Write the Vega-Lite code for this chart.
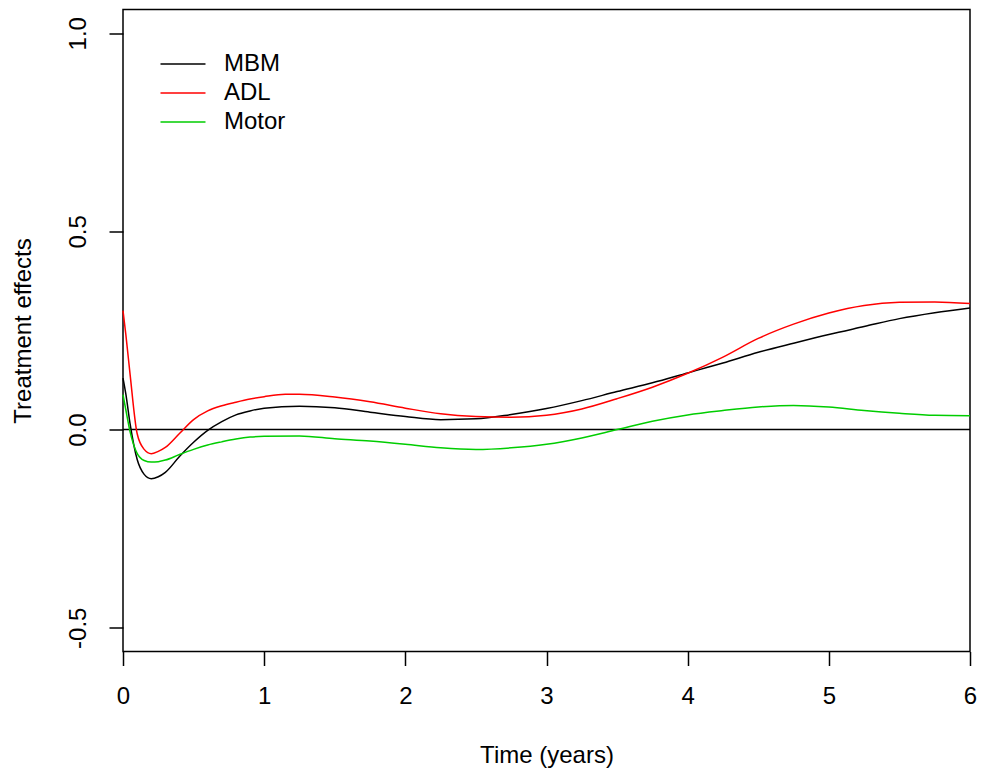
{
  "$schema": "https://vega.github.io/schema/vega-lite/v6.json",
  "width": 847,
  "height": 642,
  "autosize": {"type": "none"},
  "padding": {"left": 123, "top": 9.5, "right": 12, "bottom": 125.5},
  "config": {
    "font": "Liberation Sans",
    "view": {"stroke": "#000000", "strokeWidth": 1.5},
    "axis": {
      "grid": false,
      "domain": false,
      "tickColor": "#000000",
      "tickSize": 14,
      "tickWidth": 1.5,
      "labelFont": "Liberation Sans",
      "labelFontSize": 24,
      "labelColor": "#000000",
      "titleFont": "Liberation Sans",
      "titleFontSize": 24,
      "titleFontWeight": "normal",
      "titleColor": "#000000"
    }
  },
  "layer": [
    {
      "data": {"values": [{"h": 0}]},
      "mark": {"type": "rule", "color": "#000000", "strokeWidth": 1.5},
      "encoding": {
        "y": {"field": "h", "type": "quantitative", "scale": {"domain": [-0.56, 1.06], "nice": false, "zero": false}}
      }
    },
    {
      "data": {"values": [
        {"t": 0, "s": "MBM", "v": 0.13}, {"t": 0.02, "s": "MBM", "v": 0.09}, {"t": 0.05, "s": "MBM", "v": 0.015}, {"t": 0.1, "s": "MBM", "v": -0.075}, {"t": 0.15, "s": "MBM", "v": -0.113}, {"t": 0.2, "s": "MBM", "v": -0.124}, {"t": 0.25, "s": "MBM", "v": -0.119}, {"t": 0.3, "s": "MBM", "v": -0.108}, {"t": 0.4, "s": "MBM", "v": -0.068}, {"t": 0.5, "s": "MBM", "v": -0.032}, {"t": 0.6, "s": "MBM", "v": -0.002}, {"t": 0.7, "s": "MBM", "v": 0.02}, {"t": 0.8, "s": "MBM", "v": 0.037}, {"t": 0.9, "s": "MBM", "v": 0.047}, {"t": 1.0, "s": "MBM", "v": 0.054}, {"t": 1.25, "s": "MBM", "v": 0.059}, {"t": 1.5, "s": "MBM", "v": 0.055}, {"t": 1.75, "s": "MBM", "v": 0.044}, {"t": 2.0, "s": "MBM", "v": 0.033}, {"t": 2.25, "s": "MBM", "v": 0.025}, {"t": 2.5, "s": "MBM", "v": 0.027}, {"t": 2.75, "s": "MBM", "v": 0.038}, {"t": 3.0, "s": "MBM", "v": 0.053}, {"t": 3.25, "s": "MBM", "v": 0.073}, {"t": 3.5, "s": "MBM", "v": 0.096}, {"t": 3.75, "s": "MBM", "v": 0.118}, {"t": 4.0, "s": "MBM", "v": 0.143}, {"t": 4.25, "s": "MBM", "v": 0.168}, {"t": 4.5, "s": "MBM", "v": 0.195}, {"t": 4.75, "s": "MBM", "v": 0.218}, {"t": 5.0, "s": "MBM", "v": 0.24}, {"t": 5.25, "s": "MBM", "v": 0.26}, {"t": 5.5, "s": "MBM", "v": 0.28}, {"t": 5.75, "s": "MBM", "v": 0.295}, {"t": 6.0, "s": "MBM", "v": 0.307},
        {"t": 0, "s": "ADL", "v": 0.30}, {"t": 0.02, "s": "ADL", "v": 0.24}, {"t": 0.05, "s": "ADL", "v": 0.14}, {"t": 0.1, "s": "ADL", "v": -0.01}, {"t": 0.15, "s": "ADL", "v": -0.05}, {"t": 0.2, "s": "ADL", "v": -0.061}, {"t": 0.25, "s": "ADL", "v": -0.055}, {"t": 0.3, "s": "ADL", "v": -0.045}, {"t": 0.4, "s": "ADL", "v": -0.01}, {"t": 0.5, "s": "ADL", "v": 0.025}, {"t": 0.6, "s": "ADL", "v": 0.047}, {"t": 0.7, "s": "ADL", "v": 0.06}, {"t": 0.8, "s": "ADL", "v": 0.069}, {"t": 0.9, "s": "ADL", "v": 0.077}, {"t": 1.0, "s": "ADL", "v": 0.083}, {"t": 1.15, "s": "ADL", "v": 0.089}, {"t": 1.25, "s": "ADL", "v": 0.089}, {"t": 1.5, "s": "ADL", "v": 0.082}, {"t": 1.75, "s": "ADL", "v": 0.07}, {"t": 2.0, "s": "ADL", "v": 0.054}, {"t": 2.25, "s": "ADL", "v": 0.04}, {"t": 2.5, "s": "ADL", "v": 0.033}, {"t": 2.75, "s": "ADL", "v": 0.031}, {"t": 3.0, "s": "ADL", "v": 0.036}, {"t": 3.25, "s": "ADL", "v": 0.052}, {"t": 3.5, "s": "ADL", "v": 0.078}, {"t": 3.75, "s": "ADL", "v": 0.107}, {"t": 4.0, "s": "ADL", "v": 0.142}, {"t": 4.25, "s": "ADL", "v": 0.183}, {"t": 4.5, "s": "ADL", "v": 0.23}, {"t": 4.75, "s": "ADL", "v": 0.266}, {"t": 5.0, "s": "ADL", "v": 0.294}, {"t": 5.25, "s": "ADL", "v": 0.313}, {"t": 5.5, "s": "ADL", "v": 0.321}, {"t": 5.75, "s": "ADL", "v": 0.322}, {"t": 6.0, "s": "ADL", "v": 0.318},
        {"t": 0, "s": "Motor", "v": 0.088}, {"t": 0.02, "s": "Motor", "v": 0.05}, {"t": 0.05, "s": "Motor", "v": -0.005}, {"t": 0.1, "s": "Motor", "v": -0.06}, {"t": 0.15, "s": "Motor", "v": -0.078}, {"t": 0.2, "s": "Motor", "v": -0.082}, {"t": 0.25, "s": "Motor", "v": -0.081}, {"t": 0.3, "s": "Motor", "v": -0.077}, {"t": 0.4, "s": "Motor", "v": -0.063}, {"t": 0.5, "s": "Motor", "v": -0.05}, {"t": 0.6, "s": "Motor", "v": -0.039}, {"t": 0.7, "s": "Motor", "v": -0.031}, {"t": 0.8, "s": "Motor", "v": -0.024}, {"t": 0.9, "s": "Motor", "v": -0.019}, {"t": 1.0, "s": "Motor", "v": -0.017}, {"t": 1.25, "s": "Motor", "v": -0.016}, {"t": 1.5, "s": "Motor", "v": -0.023}, {"t": 1.75, "s": "Motor", "v": -0.029}, {"t": 2.0, "s": "Motor", "v": -0.037}, {"t": 2.25, "s": "Motor", "v": -0.046}, {"t": 2.5, "s": "Motor", "v": -0.05}, {"t": 2.75, "s": "Motor", "v": -0.046}, {"t": 3.0, "s": "Motor", "v": -0.037}, {"t": 3.25, "s": "Motor", "v": -0.021}, {"t": 3.5, "s": "Motor", "v": 0.0}, {"t": 3.75, "s": "Motor", "v": 0.021}, {"t": 4.0, "s": "Motor", "v": 0.037}, {"t": 4.25, "s": "Motor", "v": 0.048}, {"t": 4.5, "s": "Motor", "v": 0.057}, {"t": 4.75, "s": "Motor", "v": 0.061}, {"t": 5.0, "s": "Motor", "v": 0.057}, {"t": 5.25, "s": "Motor", "v": 0.048}, {"t": 5.5, "s": "Motor", "v": 0.041}, {"t": 5.75, "s": "Motor", "v": 0.036}, {"t": 6.0, "s": "Motor", "v": 0.035}
      ]},
      "mark": {"type": "line", "strokeWidth": 1.5, "interpolate": "monotone"},
      "encoding": {
        "x": {
          "field": "t", "type": "quantitative",
          "scale": {"domain": [0, 6], "nice": false, "zero": false},
          "axis": {"values": [0, 1, 2, 3, 4, 5, 6], "title": "Time (years)", "labelBaseline": "top", "labelPadding": 19, "titlePadding": 35, "labelFlush": false}
        },
        "y": {
          "field": "v", "type": "quantitative",
          "scale": {"domain": [-0.56, 1.06], "nice": false, "zero": false},
          "axis": {"values": [-0.5, 0, 0.5, 1], "format": ".1f", "labelExpr": "replace(datum.label, '\u2212', '-')", "title": "Treatment effects", "labelAngle": -90, "labelAlign": "center", "labelBaseline": "alphabetic", "labelPadding": 24, "titlePadding": 31}
        },
        "color": {
          "field": "s", "type": "nominal",
          "scale": {"domain": ["MBM", "ADL", "Motor"], "range": ["#000000", "#FF0000", "#00CD00"]},
          "legend": {
            "orient": "none", "legendX": 48, "legendY": 42.5, "title": null,
            "symbolType": "M-2,0H2", "symbolSize": 506, "symbolStrokeWidth": 1.5, "symbolFillColor": "transparent",
            "labelFont": "Liberation Sans", "labelFontSize": 24, "labelColor": "#000000",
            "labelOffset": 29, "rowPadding": 5
          }
        }
      }
    }
  ]
}
